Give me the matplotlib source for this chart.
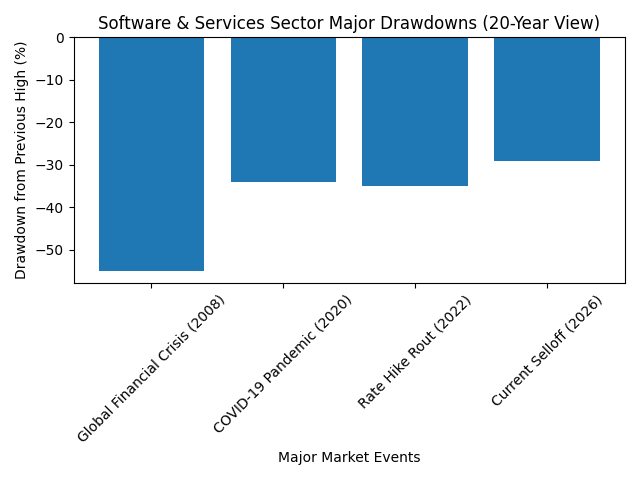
import matplotlib
matplotlib.use("Agg")
import matplotlib.pyplot as plt

# major drawdowns
events = [
    "Global Financial Crisis (2008)",
    "COVID-19 Pandemic (2020)",
    "Rate Hike Rout (2022)",
    "Current Selloff (2026)",
]
drawdowns = [-55, -34, -35, -29]

plt.figure(figsize=(6.4, 4.8), dpi=100)
plt.bar(events, drawdowns)
plt.title("Software & Services Sector Major Drawdowns (20-Year View)")
plt.xlabel("Major Market Events")
plt.ylabel("Drawdown from Previous High (%)")
plt.xticks(rotation=45)
plt.tight_layout()

plt.savefig("out.png")
